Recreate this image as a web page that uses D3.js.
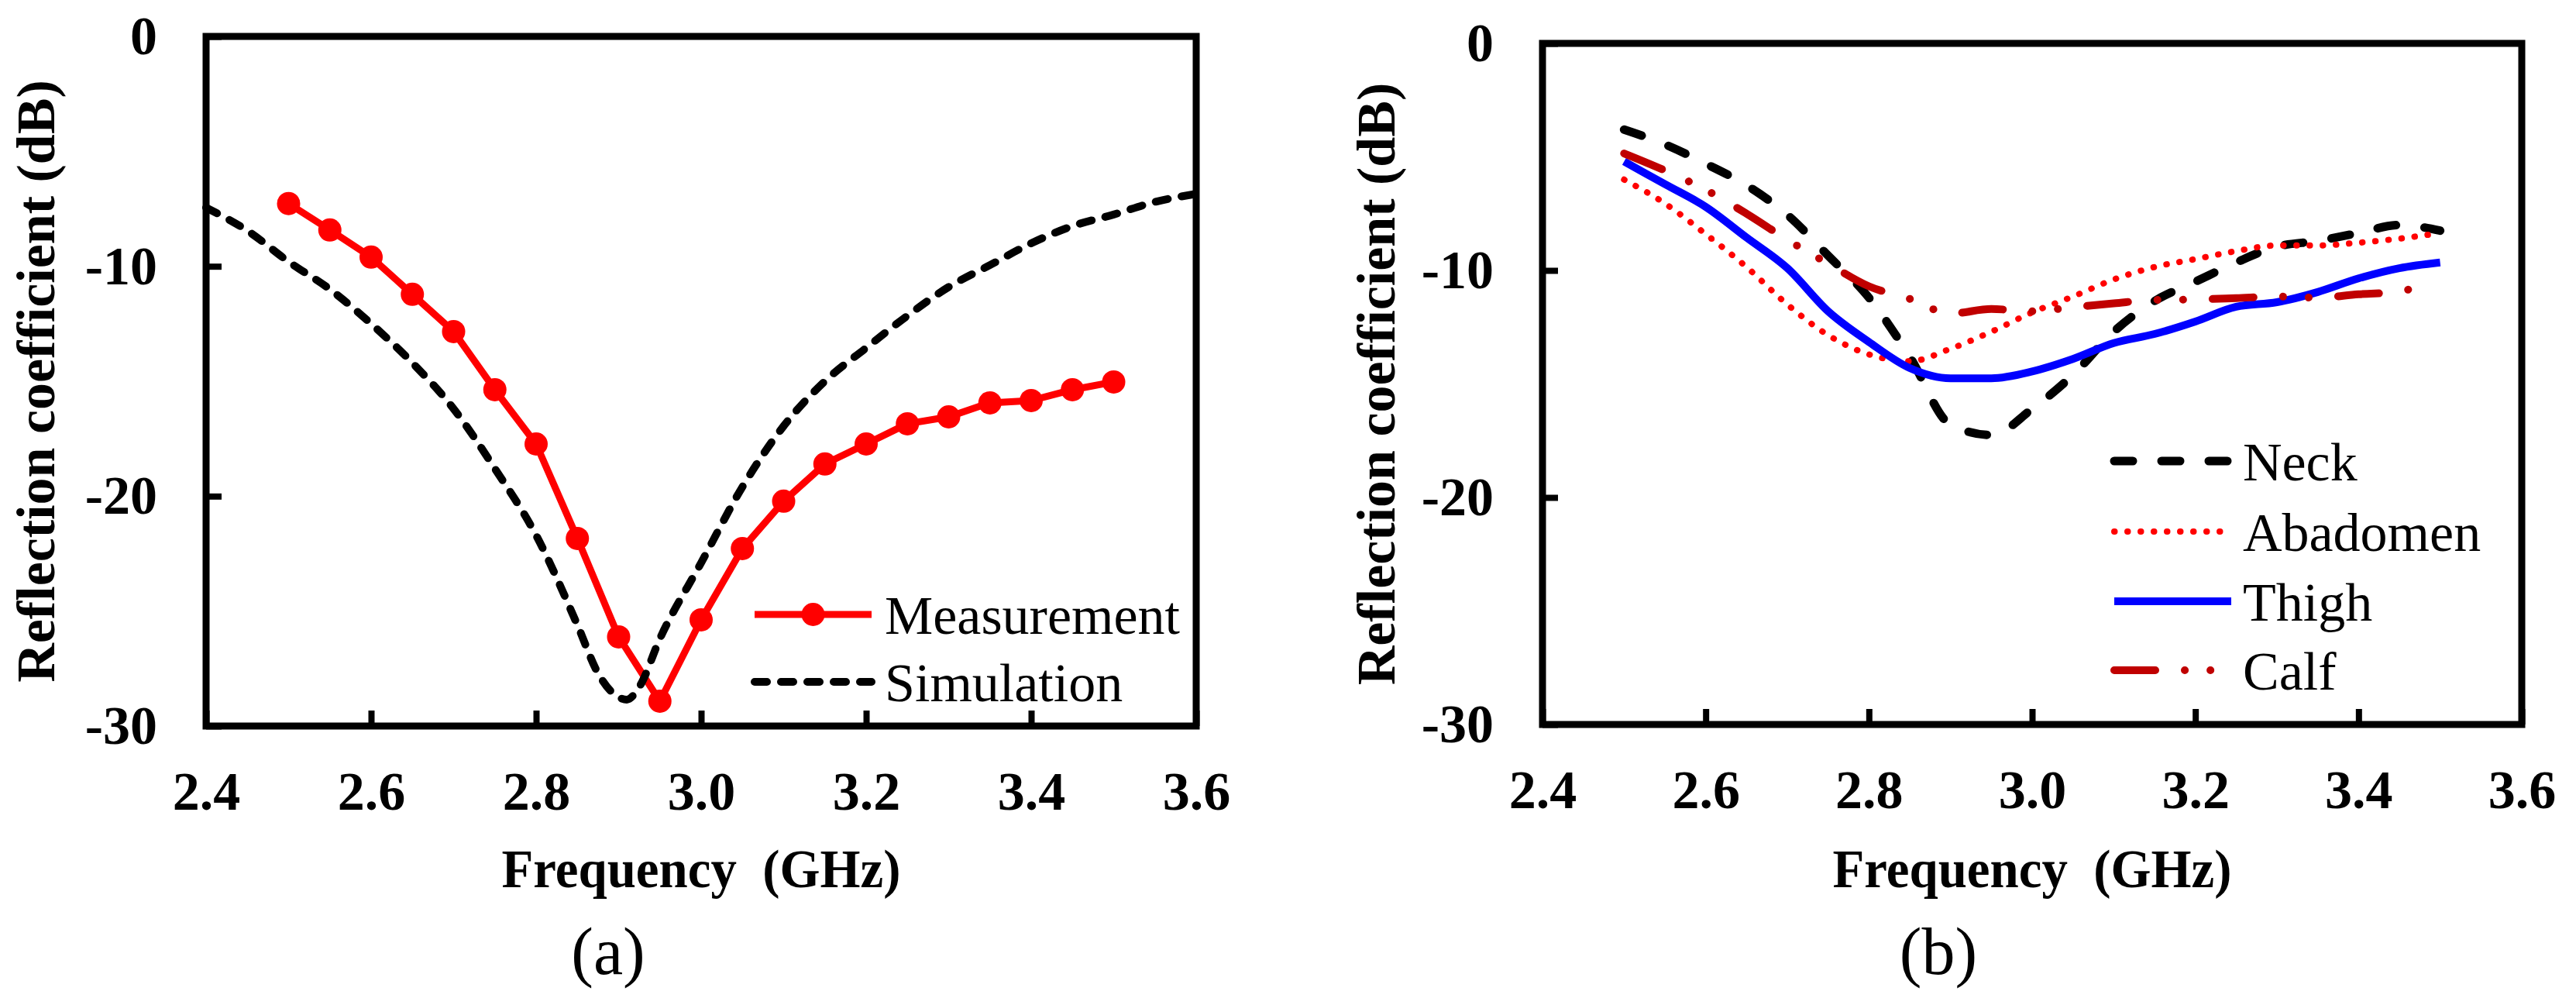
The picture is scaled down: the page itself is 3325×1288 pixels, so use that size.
<!DOCTYPE html>
<html>
<head>
<meta charset="utf-8">
<script src="https://cdn.jsdelivr.net/npm/d3@7"></script>
<style>
  body { margin: 0; background: #fff; }
  svg { display: block; background: #fff; }
  .tick text {
    font-family: "Liberation Serif", Tinos, "Times New Roman", Times, "Nimbus Roman", "DejaVu Serif", serif;
    font-weight: bold;
    font-size: 70px;
    fill: #000;
  }
</style>
</head>
<body>
<div id="chart"></div>
<script>
// Panel (a): measured vs simulated
const freqA = [2.50, 2.55, 2.60, 2.65, 2.70, 2.75, 2.80, 2.85, 2.90, 2.95, 3.00,
               3.05, 3.10, 3.15, 3.20, 3.25, 3.30, 3.35, 3.40, 3.45, 3.50];
const measurement = [-7.27, -8.42, -9.6, -11.22, -12.84, -15.37, -17.73, -21.84, -26.12, -28.92, -25.38,
                     -22.28, -20.22, -18.6, -17.73, -16.85, -16.55, -15.94, -15.84, -15.37, -15.03];

const freqSim = [2.40, 2.45, 2.50, 2.55, 2.60, 2.65, 2.70, 2.75, 2.80, 2.85, 2.875, 2.90, 2.91, 2.925,
                 2.95, 3.00, 3.05, 3.10, 3.15, 3.20, 3.25, 3.30, 3.35, 3.40, 3.45, 3.50, 3.55, 3.60];
const simulation = [-7.45, -8.45, -9.8, -11.0, -12.5, -14.2, -16.2, -18.8, -21.7, -25.6, -27.7, -28.75, -28.85, -28.3,
                    -26.2, -22.9, -19.6, -16.95, -15.0, -13.55, -12.15, -10.9, -9.95, -9.0, -8.25, -7.75, -7.2, -6.85];

// Panel (b): body positions
const freqB = [2.50, 2.55, 2.60, 2.65, 2.70, 2.75, 2.80, 2.85, 2.90, 2.95, 3.00,
               3.05, 3.10, 3.15, 3.20, 3.25, 3.30, 3.35, 3.40, 3.45, 3.50];
const neck = [-3.8, -4.45, -5.3, -6.25, -7.55, -9.35, -11.2, -13.8, -16.8, -17.25, -16.1,
              -14.6, -12.7, -11.35, -10.5, -9.65, -8.95, -8.7, -8.35, -8.0, -8.25];
const abadomen = [-6.0, -7.05, -8.4, -9.85, -11.5, -12.85, -13.7, -14.0, -13.45, -12.7, -11.85,
                  -11.15, -10.4, -9.85, -9.5, -9.15, -8.9, -8.9, -8.78, -8.6, -8.35];
const thigh = [-5.2, -6.2, -7.2, -8.55, -9.9, -11.8, -13.15, -14.3, -14.75, -14.75, -14.45,
               -13.9, -13.2, -12.8, -12.25, -11.6, -11.4, -10.95, -10.35, -9.9, -9.65];
const freqCalf = [2.50, 2.55, 2.60, 2.65, 2.70, 2.75, 2.80, 2.85, 2.90, 2.95, 3.00,
                  3.05, 3.10, 3.15, 3.20, 3.25, 3.30, 3.35, 3.40, 3.45, 3.47];
const calf = [-4.85, -5.6, -6.45, -7.5, -8.65, -9.7, -10.7, -11.25, -11.9, -11.7, -11.8,
              -11.62, -11.45, -11.3, -11.28, -11.22, -11.15, -11.2, -11.05, -10.95, -10.7];

// Axis ticks and labels
const xTicks = [2.4, 2.6, 2.8, 3.0, 3.2, 3.4, 3.6];
const yTicks = [0, -10, -20, -30];
const xTitle = "Frequency\u00a0\u00a0(GHz)";
const yTitle = "Reflection coefficient (dB)";

const serif = '"Liberation Serif", Tinos, "Times New Roman", Times, "Nimbus Roman", "DejaVu Serif", serif';

const svg = d3.select("#chart")
    .append("svg")
    .attr("width", 3325)
    .attr("height", 1288);

const panels = [
    {
        left: 266, right: 1544, top: 47, bottom: 937,
        yTitleX: 70, caption: "(a)", captionX: 785,
        legendX: 974, legendTextX: 1142, legendY: [793, 880],
        series: [
            { name: "Measurement", xs: freqA, ys: measurement, color: "#FF0000", width: 9,
              curve: d3.curveLinear, marker: 15 },
            { name: "Simulation", xs: freqSim, ys: simulation, color: "#000", width: 10,
              curve: d3.curveMonotoneX, dash: "16,18", cap: "round" }
        ]
    },
    {
        left: 1991, right: 3255, top: 56, bottom: 935,
        yTitleX: 1800, caption: "(b)", captionX: 2502,
        legendX: 2729, legendTextX: 2895, legendY: [595, 686, 776, 865],
        series: [
            { name: "Neck", xs: freqB, ys: neck, color: "#000", width: 11,
              curve: d3.curveMonotoneX, dash: "24,37", cap: "round" },
            { name: "Abadomen", xs: freqB, ys: abadomen, color: "#FF0000", width: 8,
              curve: d3.curveMonotoneX, dash: "0.5,16.5", cap: "round" },
            { name: "Thigh", xs: freqB, ys: thigh, color: "#0000FF", width: 10,
              curve: d3.curveMonotoneX },
            { name: "Calf", xs: freqCalf, ys: calf, color: "#C00000", width: 10,
              curve: d3.curveMonotoneX, dash: "53,38,0.1,33,0.1,38", cap: "round" }
        ]
    }
];

panels.forEach(drawPanel);

function drawPanel(p) {
    const xScale = d3.scaleLinear().domain([2.4, 3.6]).range([p.left, p.right]);
    const yScale = d3.scaleLinear().domain([-30, 0]).range([p.bottom, p.top]);
    const g = svg.append("g");

    // Curves
    p.series.forEach(s => {
        const pts = s.xs.map((f, i) => [f, s.ys[i]]);
        const line = d3.line()
            .x(d => xScale(d[0]))
            .y(d => yScale(d[1]))
            .curve(s.curve);

        g.append("path")
            .datum(pts)
            .attr("d", line)
            .attr("fill", "none")
            .attr("stroke", s.color)
            .attr("stroke-width", s.width)
            .attr("stroke-linejoin", "round")
            .attr("stroke-linecap", s.cap || "butt")
            .attr("stroke-dasharray", s.dash || null);

        if (s.marker) {
            g.selectAll(null)
                .data(pts)
                .enter()
                .append("circle")
                .attr("cx", d => xScale(d[0]))
                .attr("cy", d => yScale(d[1]))
                .attr("r", s.marker)
                .attr("fill", s.color);
        }
    });

    // X axis (ticks pointing inward)
    const xAxis = g.append("g")
        .attr("transform", `translate(0, ${p.bottom})`)
        .call(d3.axisBottom(xScale)
            .tickValues(xTicks)
            .tickFormat(d3.format(".1f"))
            .tickSizeInner(-20)
            .tickSizeOuter(0)
            .tickPadding(58));
    xAxis.select(".domain").remove();
    xAxis.selectAll("line").attr("stroke-width", 8);

    // Y axis
    const yAxis = g.append("g")
        .attr("transform", `translate(${p.left}, 0)`)
        .call(d3.axisLeft(yScale)
            .tickValues(yTicks)
            .tickFormat(d => String(d))
            .tickSizeInner(-20)
            .tickSizeOuter(0)
            .tickPadding(63));
    yAxis.select(".domain").remove();
    yAxis.selectAll("line").attr("stroke-width", 8);

    // Frame
    g.append("rect")
        .attr("x", p.left)
        .attr("y", p.top)
        .attr("width", p.right - p.left)
        .attr("height", p.bottom - p.top)
        .attr("fill", "none")
        .attr("stroke", "#000")
        .attr("stroke-width", 9);

    // Axis titles
    g.append("text")
        .attr("x", (p.left + p.right) / 2)
        .attr("y", 1145)
        .attr("text-anchor", "middle")
        .attr("textLength", 515)
        .attr("lengthAdjust", "spacingAndGlyphs")
        .style("font-family", serif)
        .style("font-weight", "bold")
        .style("font-size", "70px")
        .text(xTitle);

    g.append("text")
        .attr("transform", `translate(${p.yTitleX}, ${(p.top + p.bottom) / 2}) rotate(-90)`)
        .attr("text-anchor", "middle")
        .style("font-family", serif)
        .style("font-weight", "bold")
        .style("font-size", "70px")
        .text(yTitle);

    // Panel caption
    g.append("text")
        .attr("x", p.captionX)
        .attr("y", 1257)
        .attr("text-anchor", "middle")
        .style("font-family", serif)
        .style("font-size", "86px")
        .text(p.caption);

    // Legend
    p.series.forEach((s, i) => {
        const ly = p.legendY[i];
        const lx0 = p.legendX, lx1 = p.legendX + 151;
        g.append("line")
            .attr("x1", lx0).attr("x2", lx1)
            .attr("y1", ly).attr("y2", ly)
            .attr("stroke", s.color)
            .attr("stroke-width", s.width)
            .attr("stroke-linecap", s.cap || "butt")
            .attr("stroke-dasharray", s.dash || null);
        if (s.marker) {
            g.append("circle")
                .attr("cx", (lx0 + lx1) / 2)
                .attr("cy", ly)
                .attr("r", s.marker)
                .attr("fill", s.color);
        }
        g.append("text")
            .attr("x", p.legendTextX)
            .attr("y", ly + 25)
            .style("font-family", serif)
            .style("font-size", "70px")
            .text(s.name);
    });
}
</script>
</body>
</html>
